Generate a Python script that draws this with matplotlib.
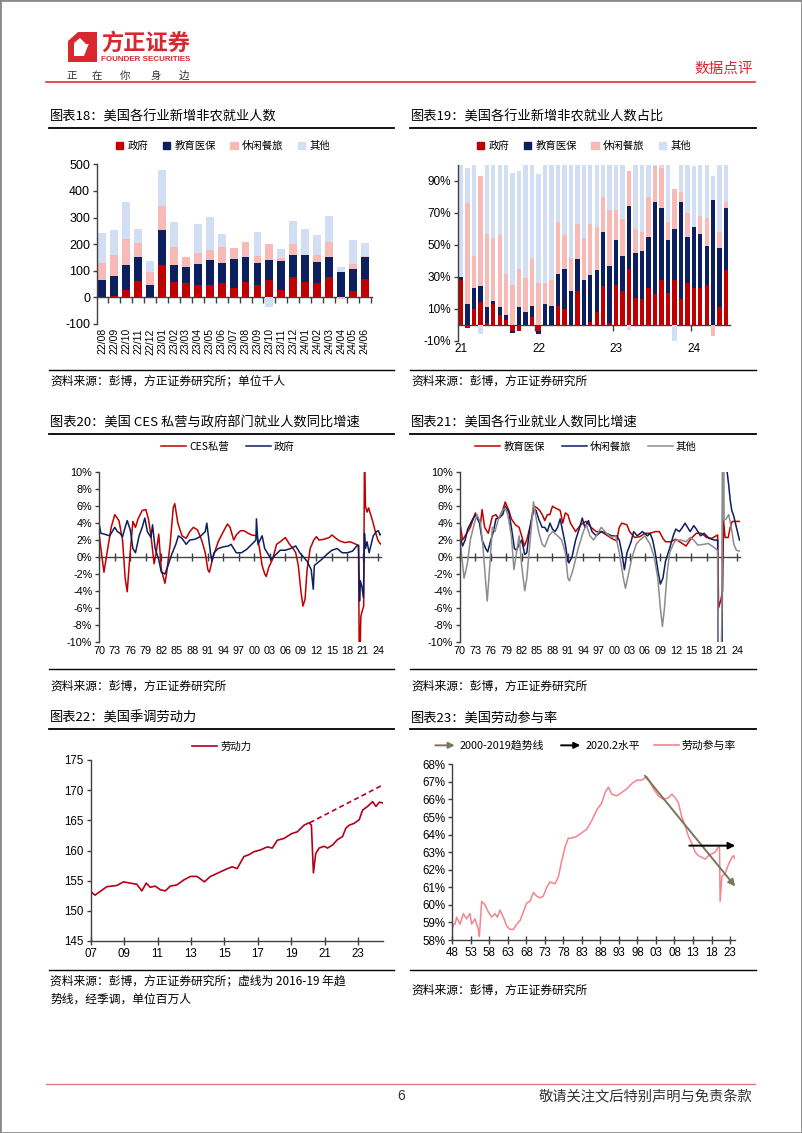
import numpy as np
import matplotlib
matplotlib.use('Agg')
import matplotlib.pyplot as plt
from matplotlib.lines import Line2D
from matplotlib.patches import Patch, Polygon, FancyArrowPatch, Rectangle
from matplotlib.legend_handler import HandlerBase

plt.rcParams['font.family'] = ['Liberation Sans', 'Noto Sans CJK SC']
plt.rcParams['axes.unicode_minus'] = False
CJK = ['Noto Sans CJK SC', 'Liberation Sans']

# ---------------- data ----------------
months18 = ['22/08', '22/09', '22/10', '22/11', '22/12', '23/01', '23/02', '23/03', '23/04', '23/05',
            '23/06', '23/07', '23/08', '23/09', '23/10', '23/11', '23/12', '24/01', '24/02', '24/03',
            '24/04', '24/05', '24/06']
gov18 = [0, 5, 29, 62, 0, 122, 58, 53, 45, 47, 53, 35, 58, 48, 65, 28, 75, 58, 53, 78, 0, 23, 68]
edu18 = [66, 74, 93, 88, 48, 132, 63, 62, 80, 92, 77, 108, 94, 80, 77, 110, 83, 100, 80, 74, 96, 82, 82]
leis18 = [63, 81, 97, 56, 47, 90, 67, 35, 42, 38, 60, 42, 55, 27, 58, 10, 42, 0, 25, 55, -6, 21, 6]
oth18 = [112, 94, 141, 51, 40, 135, 97, 2, 110, 125, 50, 0, 0, 90, -36, 32, 88, 99, 75, 100, 19, 91, 48]
series_names = ['政府', '教育医保', '休闲餐旅', '其他']

year_labels19 = ['21', '22', '23', '24']
gov19 = [28, -2, 10, 14, 1, 13, 6, 3, -4, -4, 0, 5, -4, 0, 0, 12, 10, 0, 21, 0, 2, 8, 24, 1,
         25, 21, 35, 17, 16, 23, 19, 28, 20, 28, 16, 26, 23, 23, 25, 0, 11, 34]
edu19 = [2, 13, 13, 10, 10, 2, 5, 3, -1, 11, 8, 7, -2, 13, 12, 20, 25, 21, 20, 28, 29, 26, 34, 36,
         28, 22, 39, 28, 30, 32, 58, 45, 33, 32, 61, 29, 38, 34, 24, 78, 37, 39]
leis19 = [0, 63, 20, 69, 46, 39, 45, 26, 25, 24, 21, 29, 26, 13, 16, 32, 21, 21, 22, 26, 32, 27, 22, 35,
          19, 23, 22, 15, 12, 25, 22, 25, 11, 25, 6, 15, 0, 11, 18, -7, 10, 4]
oth19 = [70, 22, 57, -6, 43, 46, 44, 68, 70, 61, 71, 59, 68, 74, 72, 36, 44, 58, 37, 46, 37, 39, 20, 28,
         28, 34, -3, 40, 42, 20, 1, 2, 36, -10, 17, 30, 38, 32, 33, 15, 42, 23]

# Chart 20: CES private vs government yoy (%)
ces_yr = [1970.0, 1970.9, 1971.5, 1972.3, 1973.0, 1973.8, 1974.5, 1975.0, 1975.4, 1975.9, 1976.5, 1977.0,
          1977.5, 1978.3, 1979.0, 1979.5, 1980.0, 1980.6, 1981.0, 1981.5, 1982.0, 1982.7, 1983.0, 1983.7,
          1984.3, 1984.6, 1985.2, 1986.0, 1986.8, 1987.5, 1988.2, 1989.0, 1989.8, 1990.5, 1991.0, 1991.3,
          1992.0, 1993.0, 1994.0, 1994.8, 1995.3, 1996.0, 1996.5, 1997.3, 1998.0, 1998.8, 1999.5, 2000.5,
          2001.0, 2001.5, 2002.0, 2002.3, 2002.8, 2003.5, 2004.3, 2005.0, 2006.0, 2006.8, 2007.5, 2008.0,
          2008.5, 2009.0, 2009.4, 2009.8, 2010.2, 2010.8, 2011.5, 2012.0, 2012.5, 2013.5, 2014.5, 2015.0,
          2015.8, 2016.5, 2017.5, 2018.5, 2019.3, 2020.0, 2020.15, 2020.33, 2020.6, 2020.9, 2021.15, 2021.3,
          2021.5, 2021.8, 2022.1, 2022.5, 2022.9, 2023.4, 2023.9, 2024.3, 2024.5]
ces_val = [2.5, -1.8, 0.5, 3.5, 5.0, 4.3, 2.0, -2.5, -4.1, 0.0, 4.2, 3.5,
           4.5, 5.5, 5.6, 4.5, 2.5, -0.8, 0.5, 2.7, -1.5, -3.1, -2.0, 1.5,
           5.8, 6.3, 4.0, 2.5, 2.2, 3.0, 3.5, 3.2, 2.0, 0.5, -1.5, -1.8,
           0.0, 1.8, 3.0, 3.9, 3.5, 2.0, 2.6, 3.1, 3.1, 2.8, 2.6, 2.5,
           1.0, -1.0, -2.0, -2.3, -1.2, -0.3, 1.5, 1.8, 2.3, 1.5, 1.0, 0.5,
           -1.0, -4.0, -5.8, -5.0, -1.5, 1.0, 2.0, 2.4, 2.0, 2.1, 2.3, 2.6,
           2.2, 1.9, 1.7, 1.8, 1.6, 1.4, 1.3, -15.0, -7.0, -6.3, -5.8, 12.0,
           6.0, 5.3, 5.8, 5.0, 4.2, 3.0, 2.0, 1.6, 1.5]
gov_yr = [1970.0, 1970.3, 1971.0, 1972.0, 1973.0, 1973.5, 1974.0, 1974.5, 1975.0, 1975.4, 1976.0, 1976.5,
          1977.0, 1977.7, 1978.3, 1978.8, 1979.3, 1980.0, 1980.3, 1980.8, 1981.5, 1982.0, 1982.7, 1983.3,
          1984.0, 1984.8, 1985.3, 1986.0, 1986.8, 1987.5, 1988.5, 1989.5, 1990.5, 1990.8, 1991.2, 1991.5,
          1991.8, 1992.2, 1993.0, 1994.0, 1995.0, 1995.5, 1996.5, 1997.5, 1998.5, 1999.5, 2000.3, 2000.4,
          2000.7, 2001.5, 2002.0, 2002.5, 2003.3, 2004.0, 2005.0, 2006.0, 2007.0, 2008.0, 2008.8, 2009.5,
          2010.2, 2010.6, 2011.0, 2011.4, 2011.6, 2012.0, 2013.0, 2014.0, 2015.0, 2016.0, 2017.0, 2018.0,
          2019.0, 2019.8, 2020.15, 2020.35, 2020.5, 2020.8, 2021.1, 2021.3, 2021.5, 2021.8, 2022.2, 2022.6,
          2023.0, 2023.6, 2024.0, 2024.3, 2024.5]
gov_val = [3.8, 2.8, 2.7, 2.5, 3.5, 3.0, 2.8, 2.4, 3.5, 4.3, 3.2, 1.0,
           0.5, 2.5, 3.5, 4.6, 3.0, 2.3, 3.8, 1.0, -0.3, -1.8, -2.0, -1.0,
           0.3, 1.5, 2.5, 2.2, 1.5, 2.0, 2.1, 2.4, 3.0, 4.0, 2.0, 0.5,
           -0.5, 0.5, 1.0, 1.2, 1.3, 1.5, 0.5, 0.5, 0.9, 1.5, 2.0, 4.5,
           1.5, 2.5, 1.0, 0.5, -0.3, 0.2, 0.8, 0.8, 1.0, 1.3, 0.5, 0.0,
           -0.5, -1.0, -1.5, -3.8, -1.0, -0.8, -0.3, 0.3, 0.8, 1.0, 0.5, 0.5,
           0.7, 1.3, 1.4, -5.2, -2.8, -3.5, -4.8, 2.8, 1.0, 1.8, 0.5, 1.5,
           2.5, 3.0, 3.1, 2.6, 2.7]

# Chart 21: sectors yoy (%)
edu_yr = [1970.0, 1970.5, 1971.0, 1972.0, 1973.0, 1973.5, 1974.0, 1974.3, 1974.8, 1975.5, 1976.3, 1977.0,
          1977.5, 1978.3, 1978.8, 1979.5, 1980.0, 1980.8, 1981.5, 1982.0, 1982.5, 1983.0, 1983.8, 1984.5,
          1985.0, 1985.5, 1986.0, 1986.5, 1987.0, 1987.5, 1988.0, 1988.5, 1989.5, 1990.0, 1990.5, 1991.0,
          1991.5, 1992.5, 1993.5, 1994.5, 1995.5, 1996.5, 1997.5, 1998.5, 1999.5, 2000.5, 2001.0, 2001.5,
          2002.5, 2003.0, 2004.0, 2005.0, 2006.0, 2007.0, 2008.0, 2008.8, 2009.5, 2010.0, 2011.0, 2012.0,
          2013.0, 2014.0, 2015.0, 2016.0, 2017.0, 2018.0, 2019.0, 2020.15, 2020.33, 2020.8, 2021.1, 2021.3,
          2021.6, 2022.2, 2022.6, 2023.0, 2024.0, 2024.5]
edu_val = [4.0, 2.0, 2.5, 3.5, 5.2, 4.5, 4.0, 5.6, 3.5, 2.8, 4.8, 5.0,
           4.5, 5.5, 6.5, 5.5, 4.5, 3.8, 3.5, 2.5, 1.3, 2.0, 4.0, 6.0,
           5.8, 5.5, 5.0, 4.3, 5.0, 5.0, 6.0, 5.8, 5.5, 4.0, 5.2, 5.0,
           4.0, 3.0, 3.8, 4.2, 3.5, 3.0, 3.0, 2.6, 2.2, 1.9, 3.5, 4.0,
           3.8, 3.0, 2.3, 2.4, 2.8, 2.8, 3.0, 3.0, 2.2, 1.8, 1.8, 2.1,
           1.7, 1.3, 2.2, 2.8, 2.8, 2.3, 2.2, 2.6, -6.0, -5.0, -4.0, 4.3,
           2.3, 2.3, 3.5, 4.2, 4.2, 4.2]
lei_yr = [1970.0, 1970.5, 1971.0, 1971.5, 1972.5, 1973.0, 1973.8, 1974.3, 1975.0, 1975.4, 1976.0, 1976.5,
          1977.0, 1977.8, 1978.3, 1978.8, 1979.5, 1980.0, 1980.6, 1981.0, 1981.5, 1982.0, 1982.6, 1983.0,
          1983.5, 1984.3, 1984.8, 1985.3, 1986.0, 1986.5, 1987.0, 1987.5, 1988.0, 1988.5, 1989.0, 1989.5,
          1990.0, 1990.5, 1991.0, 1991.2, 1991.8, 1992.5, 1993.3, 1993.8, 1994.3, 1995.0, 1995.7, 1996.5,
          1997.5, 1998.5, 1999.5, 2000.5, 2001.0, 2001.5, 2002.0, 2002.5, 2003.3, 2003.8, 2004.5, 2005.5,
          2006.5, 2007.0, 2007.5, 2008.0, 2008.5, 2009.0, 2009.5, 2010.0, 2010.8, 2011.5, 2012.0, 2012.7,
          2013.3, 2013.8, 2014.3, 2014.8, 2015.5, 2016.0, 2016.8, 2017.5, 2018.5, 2019.5, 2020.15, 2020.33,
          2021.0, 2021.3, 2021.9, 2022.3, 2022.6, 2022.9, 2023.3, 2023.8, 2024.4]
lei_val = [2.5, 1.3, 2.0, 3.3, 4.5, 5.0, 4.0, 2.0, 1.0, 0.6, 2.0, 3.0,
           4.5, 4.7, 5.0, 6.0, 5.3, 3.5, 1.0, 0.8, 1.5, 2.0, 0.3, 0.5,
           3.0, 5.8, 5.5, 4.5, 3.5, 3.5, 3.0, 4.0, 3.3, 3.0, 3.5, 4.5,
           3.0, 1.5, -0.5, -0.7, 0.0, 2.0, 3.5, 4.6, 3.5, 4.3, 3.0, 2.5,
           3.0, 2.8, 2.5, 2.5, 2.0, 0.5, -1.5, 0.5, 1.8, 3.0, 2.5, 3.0,
           2.5, 2.8, 2.0, 0.5, -1.5, -3.2, -2.5, -0.5, 1.0, 2.5, 3.3, 3.0,
           3.5, 4.0, 3.5, 3.0, 3.7, 3.3, 2.5, 2.8, 2.2, 2.0, 2.0, -48.0,
           -20.0, 60.0, 10.5, 8.5, 6.7, 5.5, 4.8, 3.5, 2.0]
oth_yr = [1970.0, 1970.8, 1971.0, 1971.5, 1972.0, 1972.8, 1973.3, 1974.0, 1974.5, 1975.0, 1975.3, 1975.8,
          1976.3, 1976.8, 1977.5, 1978.3, 1978.8, 1979.3, 1980.0, 1980.5, 1981.0, 1981.5, 1982.0, 1982.6,
          1983.0, 1983.8, 1984.3, 1984.7, 1985.3, 1986.0, 1986.5, 1987.3, 1988.0, 1989.0, 1989.8, 1990.5,
          1991.0, 1991.3, 1992.0, 1993.0, 1994.0, 1994.6, 1995.3, 1996.0, 1997.0, 1997.5, 1998.5, 1999.5,
          2000.3, 2001.0, 2001.8, 2002.2, 2002.8, 2003.5, 2004.3, 2005.0, 2006.0, 2007.0, 2007.8, 2008.5,
          2009.0, 2009.4, 2009.8, 2010.3, 2010.8, 2011.5, 2012.0, 2013.0, 2014.0, 2014.8, 2015.5, 2016.3,
          2017.5, 2018.3, 2019.3, 2019.9, 2020.15, 2020.35, 2021.0, 2021.25, 2021.4, 2021.8, 2022.3, 2022.8,
          2023.3, 2023.8, 2024.4]
oth_val = [2.0, -2.5, -2.0, -0.5, 2.0, 4.0, 5.0, 4.0, 1.0, -3.0, -5.2, -1.0,
           3.5, 3.0, 4.5, 5.5, 5.8, 5.0, 2.5, -1.5, 0.5, 2.5, -1.0, -4.0,
           -2.5, 3.0, 6.5, 5.0, 3.0, 1.5, 1.2, 2.5, 3.0, 2.5, 2.0, 0.5,
           -2.5, -2.8, -1.5, 1.0, 3.0, 3.8, 2.5, 2.0, 3.0, 3.5, 2.8, 2.3,
           2.5, 0.5, -2.5, -3.7, -2.0, 0.0, 1.5, 2.0, 2.5, 1.5, 0.0, -2.5,
           -6.0, -8.2, -6.0, -2.0, 0.5, 1.5, 2.0, 2.0, 1.8, 2.3, 2.0, 1.4,
           1.5, 1.6, 1.2, 0.9, 0.8, -30.0, -6.0, 30.0, 4.3, 4.5, 5.0, 3.5,
           1.5, 0.8, 0.7]

# Chart 22: labor force (millions)
lf_yr = [2007.0, 2007.26, 2007.96, 2008.56, 2008.96, 2009.36, 2009.76, 2010.06, 2010.32, 2010.56, 2010.86,
         2011.16, 2011.46, 2011.76, 2012.16, 2012.56, 2012.96, 2013.36, 2013.8, 2014.16, 2014.56, 2015.02,
         2015.46, 2015.76, 2016.16, 2016.46, 2016.76, 2017.16, 2017.56, 2017.86, 2018.16, 2018.56, 2019.02,
         2019.36, 2019.76, 2020.06, 2020.2, 2020.32, 2020.46, 2020.66, 2020.96, 2021.16, 2021.46, 2021.76,
         2022.06, 2022.26, 2022.46, 2022.76, 2023.06, 2023.26, 2023.56, 2023.86, 2024.06, 2024.26, 2024.46]
lf_val = [153.2, 152.6, 154.0, 154.2, 154.8, 154.6, 154.4, 153.3, 154.6, 153.9, 154.1,
          153.5, 153.3, 154.1, 154.3, 155.1, 155.7, 155.7, 154.8, 155.7, 156.2, 156.8,
          157.3, 157.0, 159.0, 159.3, 159.8, 160.1, 160.6, 160.4, 161.7, 162.0, 162.8,
          163.1, 164.2, 164.6, 164.2, 156.3, 159.5, 160.4, 160.7, 160.4, 160.9, 161.8,
          162.3, 163.7, 164.2, 164.5, 165.1, 166.7, 167.3, 168.1, 167.3, 168.0, 167.9]
trend_yr = [2020.1, 2024.5]
trend_val = [164.6, 170.9]

# Chart 23: participation rate (%)
lfpr_yr = [1948.0, 1948.27, 1948.72, 1949.17, 1950.07, 1950.97, 1951.87, 1952.77, 1953.23, 1954.13, 1955.03,
           1955.3, 1955.93, 1956.83, 1957.73, 1958.63, 1959.53, 1960.16, 1960.88, 1961.78, 1962.68, 1963.59,
           1964.49, 1965.39, 1966.29, 1967.19, 1968.09, 1968.99, 1969.89, 1970.79, 1971.69, 1972.59, 1973.5,
           1974.4, 1975.75, 1976.65, 1977.55, 1978.45, 1979.35, 1980.25, 1981.6, 1982.95, 1984.31, 1985.66,
           1987.01, 1988.36, 1989.26, 1990.16, 1991.06, 1992.41, 1993.77, 1995.12, 1996.47, 1997.82, 1999.17,
           2000.52, 2001.42, 2002.32, 2003.68, 2005.03, 2006.38, 2007.28, 2008.18, 2009.08, 2009.98, 2010.88,
           2011.78, 2012.68, 2013.59, 2014.49, 2015.39, 2016.29, 2017.19, 2018.09, 2018.99, 2019.89, 2020.16,
           2020.34, 2020.79, 2021.69, 2022.59, 2023.5, 2023.95, 2024.4]
lfpr_val = [58.6, 58.9, 58.9, 59.3, 58.9, 59.5, 59.2, 59.5, 58.9, 59.2, 58.6,
            58.2, 60.2, 60.0, 59.6, 59.3, 59.5, 59.3, 59.7, 59.3, 58.8, 58.6,
            58.6, 58.9, 59.1, 59.6, 60.1, 60.2, 60.7, 60.5, 60.4, 60.5, 61.0,
            61.3, 61.2, 61.6, 62.5, 63.3, 63.8, 63.8, 63.9, 64.1, 64.3, 64.8,
            65.4, 65.8, 66.4, 66.7, 66.3, 66.2, 66.4, 66.6, 66.9, 67.1, 67.1,
            67.3, 67.0, 66.6, 66.2, 66.0, 66.1, 66.3, 66.1, 65.8, 65.0, 64.5,
            63.9, 63.5, 63.0, 62.8, 62.7, 62.6, 62.8, 62.9, 63.0, 63.3, 63.3,
            60.2, 61.6, 61.8, 62.3, 62.7, 62.8, 62.6]
trend_line_yr = [2000.0, 2024.4]
trend_line_val = [67.35, 61.05]
level_yr = [2012.0, 2024.4]
level_val = [63.37, 63.37]

# ---------------- style ----------------
RED = '#C00000'
NAVY = '#0C1F5E'
PINK = '#F8BAB6'
LBLUE = '#D2DEF4'
GRAY = '#8C8C8C'
LF_RED = '#B3001B'
LFPR_PINK = '#F5848F'
BROWN = '#7D7459'
AX = '#404040'
BRAND = '#D7282F'

W, H = 802, 1133
fig = plt.figure(figsize=(W / 100, H / 100), dpi=100)


def fx(x):
    return x / W


def fy(y):
    return 1 - y / H


def axes_px(l, t, r, b):
    return fig.add_axes([fx(l), fy(b), (r - l) / W, (b - t) / H])


def style_axes(ax, ysize=8):
    for s in ['top', 'right']:
        ax.spines[s].set_visible(False)
    for s in ['left', 'bottom']:
        ax.spines[s].set_color(AX)
        ax.spines[s].set_linewidth(1.0)
    ax.tick_params(colors=AX, labelcolor='black', width=1.0)
    ax.tick_params(axis='y', direction='out', length=3, labelsize=ysize, pad=2)
    ax.patch.set_alpha(0)


def zero_axis(ax, ticks, ymin, ymax, direction, length):
    pos = (0 - ymin) / (ymax - ymin)
    sec = ax.secondary_xaxis(pos)
    sec.set_xticks(ticks)
    sec.set_xticklabels([''] * len(ticks))
    sec.tick_params(direction=direction, length=length, color=AX, width=1.0)
    for s in sec.spines.values():
        s.set_color(AX)
        s.set_linewidth(1.0)
    ax.spines['bottom'].set_visible(False)
    ax.tick_params(axis='x', length=0)
    return sec


def stacked(ax, x, series, colors, labels, width):
    vals = np.array(series, dtype=float)
    pos = np.clip(vals, 0, None)
    neg = np.clip(vals, None, 0)
    pos_b = np.vstack([np.zeros(vals.shape[1]), np.cumsum(pos, axis=0)[:-1]])
    neg_b = np.vstack([np.zeros(vals.shape[1]), np.cumsum(neg, axis=0)[:-1]])
    for i in range(vals.shape[0]):
        bottom = np.where(vals[i] >= 0, pos_b[i], neg_b[i])
        ax.bar(x, vals[i], bottom=bottom, width=width, color=colors[i], label=labels[i], linewidth=0)


def bar_legend(ax, cx, cy):
    handles = [Patch(color=c) for c in [RED, NAVY, PINK, LBLUE]]
    ax.legend(handles, series_names, loc='center', bbox_to_anchor=(fx(cx), fy(cy)),
              bbox_transform=fig.transFigure, ncol=4, frameon=False, prop={'family': CJK, 'size': 7.5},
              handlelength=0.7, handleheight=0.7, handletextpad=0.4, columnspacing=1.4)


# ---------------- page decorations ----------------
fig.patches.append(Rectangle((0, 0), 1, 1, transform=fig.transFigure, fill=False,
                             ec='#8a8a8a', lw=2.0))
# logo icon
px = lambda pts: [(fx(a), fy(b)) for a, b in pts]
fig.patches.append(Polygon(px([(68, 41), (78, 32), (97, 32), (97, 62), (68, 62)]),
                           closed=True, fc=BRAND, ec='none', transform=fig.transFigure))
fig.patches.append(Polygon(px([(74, 43), (80, 38), (91, 38), (84, 56), (74, 56)]),
                           closed=True, fc='white', ec='none', transform=fig.transFigure))
fig.patches.append(Polygon(px([(80, 38), (91, 38), (91, 44), (86, 44)]),
                           closed=True, fc=BRAND, ec='none', transform=fig.transFigure))
fig.text(fx(101), fy(43), '方正证券', family=CJK, fontsize=16, weight='bold', color=BRAND,
         ha='left', va='center')
fig.text(fx(101), fy(59.5), 'FOUNDER SECURITIES', fontsize=5.8, weight='bold', color=BRAND,
         ha='left', va='center')
for xc, ch in zip([72, 97, 125, 156, 184], '正在你身边'):
    fig.text(fx(xc), fy(76), ch, family=CJK, fontsize=7.5, color='#333333', ha='center', va='center')
fig.text(fx(753), fy(69), '数据点评', family=CJK, fontsize=10.5, color=BRAND, ha='right', va='center')
fig.add_artist(Line2D([fx(46), fx(755)], [fy(82), fy(82)], color='#D9323D', lw=1.2))

# footer
fig.add_artist(Line2D([fx(46), fx(755)], [fy(1084), fy(1084)], color='#E27882', lw=1.0))
fig.text(fx(401), fy(1096), '6', fontsize=10, color='#333333', ha='center', va='center')
fig.text(fx(752), fy(1096), '敬请关注文后特别声明与免责条款', family=CJK, fontsize=10.3,
         color='#333333', ha='right', va='center')


def rule(y, x0, x1, lw=1.3):
    fig.add_artist(Line2D([fx(x0), fx(x1)], [fy(y), fy(y)], color='black', lw=lw))


def title(x, y, s):
    fig.text(fx(x), fy(y), s, family=CJK, fontsize=9.5, color='black', ha='left', va='center')


def source(x, y, s):
    fig.text(fx(x), fy(y), s, family=CJK, fontsize=8.5, color='black', ha='left', va='center',
             style='italic')


LX0, LX1, RX0, RX1 = 49, 394, 410, 756
title(50, 117, '图表18：美国各行业新增非农就业人数')
title(411, 117, '图表19：美国各行业新增非农就业人数占比')
rule(128, LX0, LX1); rule(128, RX0, RX1)
rule(370, LX0, LX1, 1.0); rule(370, RX0, RX1, 1.0)
source(50, 381, '资料来源：彭博，方正证券研究所；单位千人')
source(411, 381, '资料来源：彭博，方正证券研究所')

title(50, 423, '图表20：美国 CES 私营与政府部门就业人数同比增速')
title(411, 423, '图表21：美国各行业就业人数同比增速')
rule(434, LX0, LX1); rule(434, RX0, RX1)
rule(669, LX0, LX1, 1.0); rule(669, RX0, RX1, 1.0)
source(50, 686, '资料来源：彭博，方正证券研究所')
source(411, 686, '资料来源：彭博，方正证券研究所')

title(50, 718, '图表22：美国季调劳动力')
title(411, 718, '图表23：美国劳动参与率')
rule(729, LX0, LX1); rule(729, RX0, RX1)
rule(970, LX0, LX1, 1.0); rule(970, RX0, RX1, 1.0)
source(50, 981, '资料来源：彭博，方正证券研究所；虚线为 2016-19 年趋')
source(50, 999, '势线，经季调，单位百万人')
source(411, 990, '资料来源：彭博，方正证券研究所')

# ---------------- Chart 18 ----------------
ax1 = axes_px(97, 164.3, 372, 324)
x18 = np.arange(len(months18))
stacked(ax1, x18, [gov18, edu18, leis18, oth18], [RED, NAVY, PINK, LBLUE], series_names, 0.66)
ax1.set_ylim(-100, 500)
ax1.set_xlim(-0.45, len(months18) - 0.4)
style_axes(ax1, ysize=9)
ax1.set_yticks(range(-100, 501, 100))
ax1.set_xticks(x18)
ax1.set_xticklabels(months18, rotation=90, fontsize=7.5)
zero_axis(ax1, np.arange(len(months18) + 1) - 0.5, -100, 500, 'out', 4)
ax1.tick_params(axis='x', pad=3)
bar_legend(ax1, 223, 146)

# ---------------- Chart 19 ----------------
ax2 = axes_px(458, 164.7, 730, 340.7)
x19 = np.arange(len(gov19))
stacked(ax2, x19, [gov19, edu19, leis19, oth19], [RED, NAVY, PINK, LBLUE], series_names, 0.68)
ax2.set_ylim(-10, 100)
ax2.set_xlim(-0.45, len(gov19) - 0.4)
style_axes(ax2, ysize=8.5)
ax2.set_yticks(range(-10, 91, 20))
ax2.set_yticklabels([f'{v}%' for v in range(-10, 91, 20)])
ax2.set_xticks(np.arange(len(year_labels19)) * 12)
ax2.set_xticklabels(year_labels19, fontsize=8.5)
zero_axis(ax2, np.arange(1, len(year_labels19)) * 12 - 0.5, -10, 100, 'out', 4)
ax2.tick_params(axis='x', pad=2)
bar_legend(ax2, 584, 146)

# ---------------- Chart 20 ----------------
yr_ticks = np.arange(1970, 2025, 3)
yr_labels = [f'{t % 100:02d}' for t in yr_ticks]
pct_ticks = np.arange(-10, 11, 2)
pct_labels = [f'{v}%' for v in pct_ticks]

ax3 = axes_px(99.3, 472.3, 381, 641.7)
ax3.plot(ces_yr, ces_val, color=RED, lw=1.1, label='CES私营')
ax3.plot(gov_yr, gov_val, color=NAVY, lw=1.1, label='政府')
ax3.set_xlim(1970, 2024.5)
ax3.set_ylim(-10, 10)
style_axes(ax3, ysize=7.8)
ax3.set_yticks(pct_ticks)
ax3.set_yticklabels(pct_labels)
ax3.set_xticks(yr_ticks)
ax3.set_xticklabels(yr_labels, fontsize=7.8)
zero_axis(ax3, yr_ticks, -10, 10, 'inout', 6)
ax3.tick_params(axis='x', pad=3)
ax3.legend(loc='center', bbox_to_anchor=(fx(228), fy(447)), bbox_transform=fig.transFigure,
           ncol=2, frameon=False, prop={'family': CJK, 'size': 7.5}, handlelength=2.4,
           handletextpad=0.3, columnspacing=1.6)

# ---------------- Chart 21 ----------------
ax4 = axes_px(460, 472.3, 740, 641.7)
ax4.plot(edu_yr, edu_val, color=RED, lw=1.1, label='教育医保')
ax4.plot(lei_yr, lei_val, color=NAVY, lw=1.1, label='休闲餐旅')
ax4.plot(oth_yr, oth_val, color=GRAY, lw=1.1, label='其他')
ax4.set_xlim(1970, 2024.5)
ax4.set_ylim(-10, 10)
style_axes(ax4, ysize=7.8)
ax4.set_yticks(pct_ticks)
ax4.set_yticklabels(pct_labels)
ax4.set_xticks(yr_ticks)
ax4.set_xticklabels(yr_labels, fontsize=7.8)
zero_axis(ax4, yr_ticks, -10, 10, 'inout', 6)
ax4.tick_params(axis='x', pad=3)
ax4.legend(loc='center', bbox_to_anchor=(fx(586), fy(447)), bbox_transform=fig.transFigure,
           ncol=3, frameon=False, prop={'family': CJK, 'size': 7.5}, handlelength=2.4,
           handletextpad=0.3, columnspacing=1.6)

# ---------------- Chart 22 ----------------
ax5 = axes_px(90.7, 760, 383.3, 941)
ax5.plot(lf_yr, lf_val, color=LF_RED, lw=1.2, label='劳动力')
ax5.plot(trend_yr, trend_val, color=LF_RED, lw=1.2, ls=(0, (3, 2)))
ax5.set_xlim(2007, 2024.5)
ax5.set_ylim(145, 175)
style_axes(ax5, ysize=8.3)
ax5.set_yticks(range(145, 176, 5))
lf_ticks = np.arange(2007, 2024, 2)
ax5.set_xticks(lf_ticks)
ax5.set_xticklabels([f'{t % 100:02d}' for t in lf_ticks], fontsize=8.3)
ax5.tick_params(axis='x', direction='inout', length=6, pad=2)
ax5.legend(loc='center', bbox_to_anchor=(fx(222), fy(747)), bbox_transform=fig.transFigure,
           frameon=False, prop={'family': CJK, 'size': 7.5}, handlelength=2.4, handletextpad=0.3)

# ---------------- Chart 23 ----------------
class HandlerArrow(HandlerBase):
    def create_artists(self, legend, orig_handle, xdescent, ydescent, width, height, fontsize, trans):
        y = height / 2 - ydescent
        a = FancyArrowPatch((-xdescent, y), (width - xdescent, y), arrowstyle='-|>',
                            mutation_scale=9, color=orig_handle.get_color(), lw=1.4,
                            transform=trans)
        return [a]


ax6 = axes_px(452.3, 764.3, 735.2, 940)
ax6.plot(lfpr_yr, lfpr_val, color=LFPR_PINK, lw=1.1)
ax6.annotate('', xy=(trend_line_yr[1], trend_line_val[1]), xytext=(trend_line_yr[0], trend_line_val[0]),
             arrowprops=dict(arrowstyle='-|>', color=BROWN, lw=1.4, mutation_scale=10,
                             shrinkA=0, shrinkB=0))
ax6.annotate('', xy=(level_yr[1], level_val[1]), xytext=(level_yr[0], level_val[0]),
             arrowprops=dict(arrowstyle='-|>', color='black', lw=1.4, mutation_scale=10,
                             shrinkA=0, shrinkB=0))
ax6.set_xlim(1948, 2024.4)
ax6.set_ylim(58, 68)
style_axes(ax6, ysize=8.3)
ax6.set_yticks(range(58, 69))
ax6.set_yticklabels([f'{v}%' for v in range(58, 69)])
pr_ticks = np.arange(1948, 2024, 5)
ax6.set_xticks(pr_ticks)
ax6.set_xticklabels([f'{t % 100:02d}' for t in pr_ticks], fontsize=8.3)
ax6.tick_params(axis='x', direction='inout', length=6, pad=2)
h1 = Line2D([], [], color=BROWN)
h2 = Line2D([], [], color='black')
h3 = Line2D([], [], color=LFPR_PINK, lw=1.2)
ax6.legend([h1, h2, h3], ['2000-2019趋势线', '2020.2水平', '劳动参与率'],
           handler_map={h1: HandlerArrow(), h2: HandlerArrow()},
           loc='center', bbox_to_anchor=(fx(584), fy(746)), bbox_transform=fig.transFigure,
           ncol=3, frameon=False, prop={'family': CJK, 'size': 7.8}, handlelength=2.3,
           handletextpad=0.2, columnspacing=1.3)

fig.savefig('out.png', dpi=100)
